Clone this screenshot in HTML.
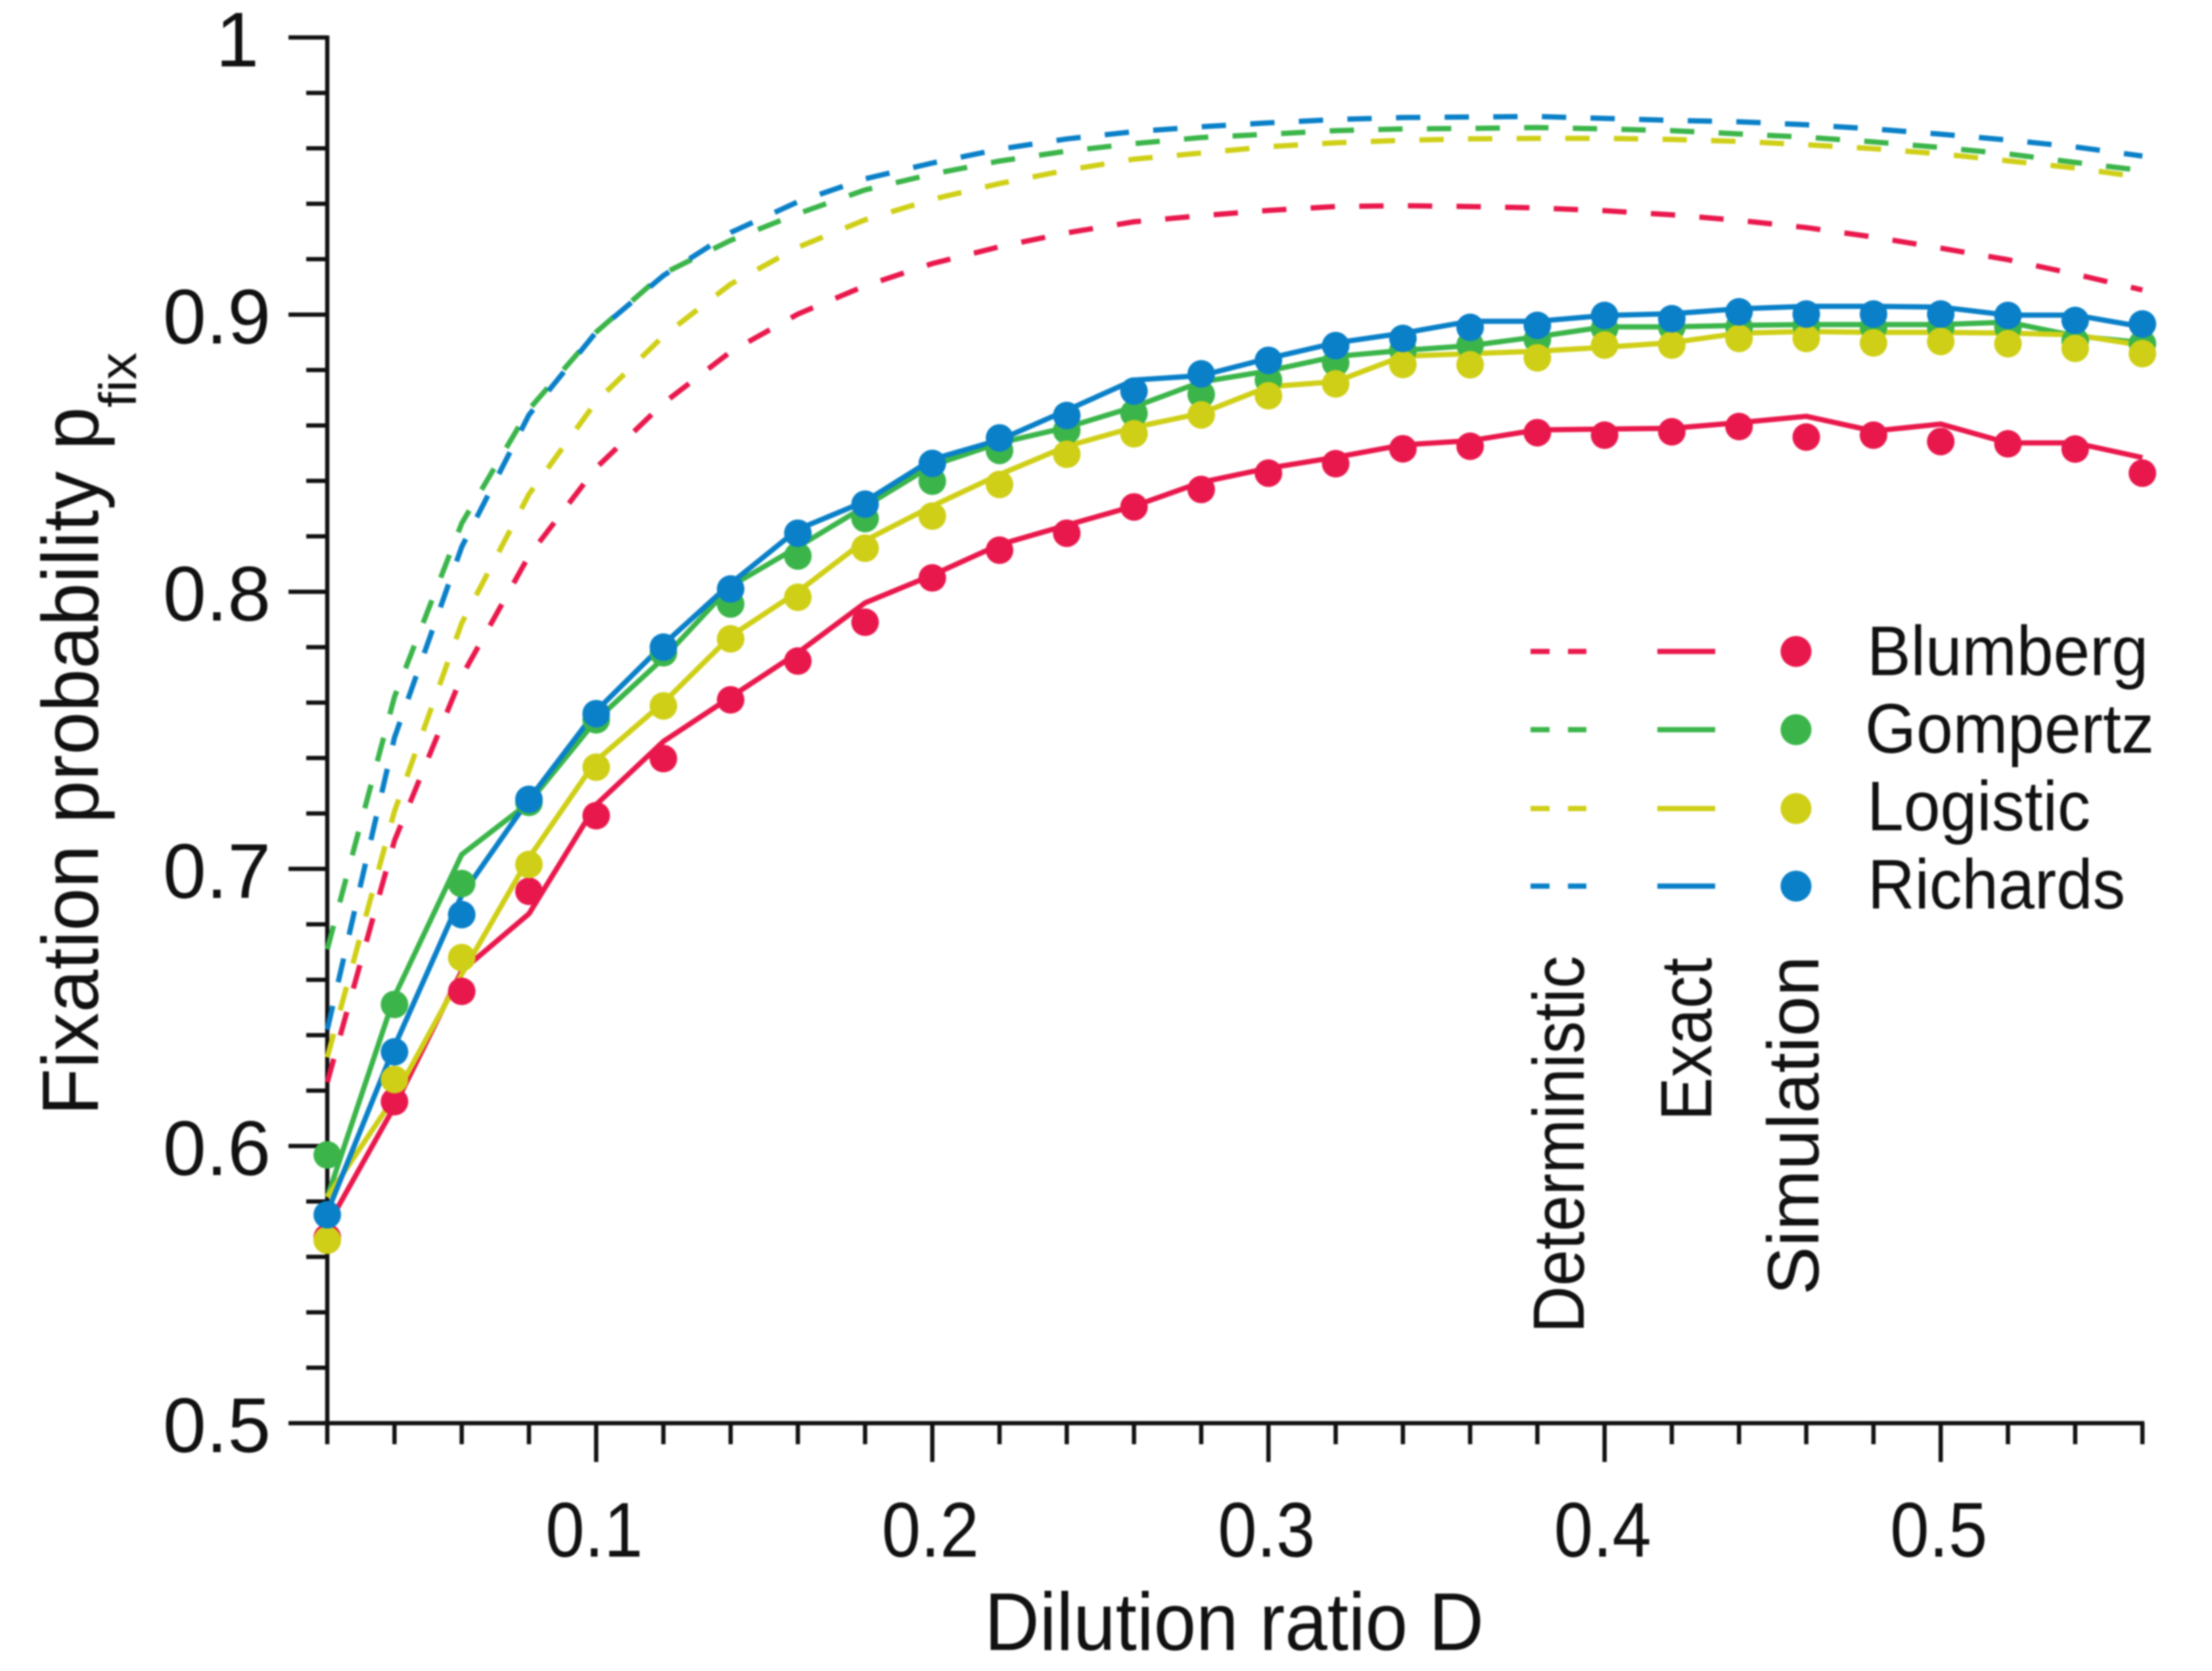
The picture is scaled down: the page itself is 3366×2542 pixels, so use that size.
<!DOCTYPE html>
<html>
<head>
<meta charset="utf-8">
<title>Fixation probability vs dilution ratio</title>
<style>
html,body{margin:0;padding:0;background:#fff;width:3366px;height:2542px;overflow:hidden}
svg{display:block;filter:blur(1.2px)}
text{font-family:"Liberation Sans",Arial,sans-serif;fill:#111}
</style>
</head>
<body>
<svg id="chart" xmlns="http://www.w3.org/2000/svg" width="3366" height="2542" viewBox="0 0 3366 2542">
  <rect x="0" y="0" width="3366" height="2542" fill="#fff"/>
  <g id="axes"></g>
  <g id="series"></g>

  <text x="1498" y="2510" font-size="124" textLength="760" lengthAdjust="spacingAndGlyphs">Dilution ratio D</text>
  <text transform="translate(149,1697) rotate(-90)" font-size="122" textLength="1078" lengthAdjust="spacingAndGlyphs">Fixation probability p</text>
  <text transform="translate(207,620) rotate(-90)" font-size="80" textLength="84" lengthAdjust="spacingAndGlyphs">fix</text>

  <g>
    <g>
      <line x1="2329" x2="2414" y1="991" y2="991" stroke="#e9184c" stroke-width="8" stroke-dasharray="29 28"/>
      <line x1="2522" x2="2610" y1="991" y2="991" stroke="#e9184c" stroke-width="8"/>
      <circle cx="2733" cy="991" r="23.5" fill="#e9184c"/>
      <text x="2841" y="1027" font-size="107" textLength="428" lengthAdjust="spacingAndGlyphs">Blumberg</text>
    </g>
    <g>
      <line x1="2329" x2="2414" y1="1110" y2="1110" stroke="#3bb54a" stroke-width="8" stroke-dasharray="29 28"/>
      <line x1="2522" x2="2610" y1="1110" y2="1110" stroke="#3bb54a" stroke-width="8"/>
      <circle cx="2733" cy="1110" r="23.5" fill="#3bb54a"/>
      <text x="2838" y="1145" font-size="107" textLength="440" lengthAdjust="spacingAndGlyphs">Gompertz</text>
    </g>
    <g>
      <line x1="2329" x2="2414" y1="1230" y2="1230" stroke="#cfcf17" stroke-width="8" stroke-dasharray="29 28"/>
      <line x1="2522" x2="2610" y1="1230" y2="1230" stroke="#cfcf17" stroke-width="8"/>
      <circle cx="2733" cy="1230" r="23.5" fill="#cfcf17"/>
      <text x="2841" y="1263" font-size="107" textLength="340" lengthAdjust="spacingAndGlyphs">Logistic</text>
    </g>
    <g>
      <line x1="2329" x2="2414" y1="1348" y2="1348" stroke="#0a80c8" stroke-width="8" stroke-dasharray="29 28"/>
      <line x1="2522" x2="2610" y1="1348" y2="1348" stroke="#0a80c8" stroke-width="8"/>
      <circle cx="2733" cy="1348" r="23.5" fill="#0a80c8"/>
      <text x="2842" y="1382" font-size="107" textLength="392" lengthAdjust="spacingAndGlyphs">Richards</text>
    </g>
    <text transform="translate(2410,2028) rotate(-90)" font-size="110" textLength="574" lengthAdjust="spacingAndGlyphs">Deterministic</text>
    <text transform="translate(2604,1705) rotate(-90)" font-size="110" textLength="248" lengthAdjust="spacingAndGlyphs">Exact</text>
    <text transform="translate(2767,1970) rotate(-90)" font-size="110" textLength="516" lengthAdjust="spacingAndGlyphs">Simulation</text>
  </g>
</svg>

<script>
const dilution = [0.02,0.04,0.06,0.08,0.10,0.12,0.14,0.16,0.18,0.20,0.22,0.24,0.26,0.28,0.30,0.32,0.34,0.36,0.38,0.40,0.42,0.44,0.46,0.48,0.50,0.52,0.54,0.56];

const detBlumberg = [0.623,0.7102,0.7695,0.813,0.8447,0.868,0.8866,0.9002,0.9104,0.9184,0.9245,0.9295,0.9335,0.9357,0.9376,0.939,0.9393,0.939,0.9385,0.9375,0.936,0.934,0.9314,0.928,0.924,0.9198,0.9146,0.9089];
const detGompertz = [0.671,0.7621,0.8247,0.8658,0.8937,0.9148,0.9268,0.9364,0.945,0.9507,0.9554,0.959,0.9617,0.9639,0.9651,0.9664,0.967,0.9672,0.9675,0.967,0.9664,0.9652,0.964,0.9623,0.9603,0.958,0.9549,0.952];
const detLogistic = [0.632,0.7208,0.7887,0.8352,0.8686,0.8923,0.911,0.9243,0.9342,0.9416,0.9473,0.9521,0.9561,0.9583,0.9606,0.962,0.9629,0.9634,0.9636,0.9636,0.9632,0.9625,0.9613,0.9599,0.958,0.9555,0.9529,0.9495];
const detRichards = [0.642,0.7474,0.8162,0.8638,0.8937,0.9141,0.9296,0.9407,0.949,0.9547,0.9597,0.9634,0.966,0.9678,0.9692,0.9704,0.9711,0.9713,0.9715,0.9708,0.9701,0.9696,0.9685,0.967,0.9651,0.963,0.9605,0.9572];

const exactBlumberg = [0.5711,0.6143,0.6632,0.6838,0.7232,0.746,0.762,0.778,0.796,0.806,0.817,0.824,0.8309,0.8395,0.8446,0.8485,0.853,0.8545,0.8584,0.8587,0.859,0.861,0.8633,0.858,0.8605,0.8537,0.8537,0.8484];
const exactGompertz = [0.5816,0.654,0.7052,0.7239,0.7537,0.776,0.802,0.8162,0.8308,0.8456,0.8537,0.8593,0.8667,0.8757,0.8797,0.8849,0.8871,0.8888,0.892,0.8956,0.8956,0.8961,0.8964,0.8964,0.8964,0.8973,0.8923,0.8899];
const exactLogistic = [0.5816,0.6177,0.662,0.704,0.7391,0.76,0.784,0.8,0.8185,0.8309,0.8423,0.8525,0.8593,0.8644,0.874,0.8758,0.885,0.8859,0.8868,0.8882,0.8899,0.8933,0.8939,0.8936,0.8936,0.8933,0.8927,0.8889];
const exactRichards = [0.576,0.636,0.6905,0.7251,0.757,0.781,0.803,0.8225,0.8326,0.8478,0.8548,0.8655,0.8764,0.878,0.8842,0.8898,0.8933,0.8976,0.8976,0.8997,0.9003,0.9021,0.903,0.903,0.9027,0.8998,0.8998,0.8956];

const simBlumberg = [0.567,0.616,0.6558,0.6919,0.7192,0.7398,0.761,0.775,0.789,0.805,0.815,0.8211,0.8306,0.8369,0.8428,0.8462,0.8516,0.8525,0.8574,0.8565,0.8577,0.8596,0.8558,0.8565,0.8542,0.8534,0.8515,0.8428];
const simGompertz = [0.5968,0.6511,0.6947,0.724,0.7538,0.778,0.7956,0.8129,0.8264,0.8399,0.851,0.8582,0.8644,0.8712,0.8764,0.8826,0.8871,0.889,0.891,0.895,0.8955,0.8955,0.896,0.8955,0.8955,0.8955,0.8905,0.8895];
const simLogistic = [0.566,0.624,0.668,0.7016,0.7367,0.7588,0.783,0.798,0.8157,0.8273,0.8387,0.8496,0.857,0.8638,0.8707,0.875,0.882,0.8819,0.8844,0.889,0.889,0.8914,0.8914,0.8898,0.8903,0.8895,0.8878,0.8859];
const simRichards = [0.5752,0.634,0.6835,0.7251,0.756,0.78,0.801,0.8211,0.8316,0.8463,0.8555,0.8636,0.8724,0.8786,0.8835,0.8888,0.8914,0.8954,0.8961,0.8997,0.8985,0.901,0.9002,0.9002,0.9002,0.8997,0.8979,0.8966];

const xMajorTicks = [0.1,0.2,0.3,0.4,0.5];
const xMajorLabels = ["0.1","0.2","0.3","0.4","0.5"];
const yMajorTicks = [0.5,0.6,0.7,0.8,0.9,1.0];
const yMajorLabels = ["0.5","0.6","0.7","0.8","0.9","1"];
const yMinorTicks = [0.52,0.54,0.56,0.58,0.62,0.64,0.66,0.68,0.72,0.74,0.76,0.78,0.82,0.84,0.86,0.88,0.92,0.94,0.96,0.98];
const xMinorTicks = [0.02,0.04,0.06,0.08,0.12,0.14,0.16,0.18,0.22,0.24,0.26,0.28,0.32,0.34,0.36,0.38,0.42,0.44,0.46,0.48,0.52,0.54,0.56];

const seriesNames = ["blumberg","gompertz","logistic","richards"];
const seriesColors = ["#e9184c","#3bb54a","#cfcf17","#0a80c8"];
const detSeries = [detBlumberg,detGompertz,detLogistic,detRichards];
const exactSeries = [exactBlumberg,exactGompertz,exactLogistic,exactRichards];
const simSeries = [simBlumberg,simGompertz,simLogistic,simRichards];

const NS = "http://www.w3.org/2000/svg";
const X0 = 498, XPX = 5115, Y0 = 2165, YPX = 4216;
function xScale(d){ return X0 + (d - 0.02) * XPX; }
function yScale(v){ return Y0 - (v - 0.5) * YPX; }

function tickLine(parent, x1, y1, x2, y2){
  const l = document.createElementNS(NS, "line");
  l.setAttribute("x1", x1);
  l.setAttribute("y1", y1);
  l.setAttribute("x2", x2);
  l.setAttribute("y2", y2);
  l.setAttribute("stroke", "#111");
  l.setAttribute("stroke-width", "6.5");
  parent.appendChild(l);
  return l;
}
function label(parent, x, y, str, anchor){
  const t = document.createElementNS(NS, "text");
  t.setAttribute("x", x);
  t.setAttribute("y", y);
  t.setAttribute("font-size", "118");
  t.setAttribute("text-anchor", anchor);
  t.textContent = str;
  parent.appendChild(t);
  return t;
}
function linePath(values){
  return values.map((v, i) => (i ? "L" : "M") + xScale(dilution[i]).toFixed(1) + " " + yScale(v).toFixed(1)).join(" ");
}

const axes = document.getElementById("axes");
const yAxis = tickLine(axes, X0, yScale(1) - 3, X0, yScale(0.5) + 3);


const xAxis = tickLine(axes, X0 - 3, yScale(0.5), xScale(0.56) + 3, yScale(0.5));



yMinorTicks.forEach(v => {
  const t = tickLine(axes, X0 - 32, yScale(v), X0, yScale(v));
  
  
});
yMajorTicks.forEach((v, i) => {
  const t = tickLine(axes, X0 - 59, yScale(v), X0, yScale(v));
  
  
  const isOne = yMajorLabels[i].length === 1;
  const l = label(axes, isOne ? 394 : 412, yScale(v) + 44, yMajorLabels[i], "end");
  
  
});
xMinorTicks.forEach(d => {
  const t = tickLine(axes, xScale(d), Y0, xScale(d), Y0 + 32);
  
  
});
xMajorTicks.forEach((d, i) => {
  const t = tickLine(axes, xScale(d), Y0, xScale(d), Y0 + 59);
  
  
  const l = label(axes, xScale(d) - 3, 2368, xMajorLabels[i], "middle");
  l.setAttribute("textLength", "148");
  l.setAttribute("lengthAdjust", "spacingAndGlyphs");
  
  
});

const layer = document.getElementById("series");
detSeries.forEach((vals, s) => {
  const p = document.createElementNS(NS, "path");
  p.setAttribute("d", linePath(vals));
  p.setAttribute("fill", "none");
  p.setAttribute("stroke", seriesColors[s]);
  p.setAttribute("stroke-width", "8");
  p.setAttribute("stroke-dasharray", "37 37");
  
  
  layer.appendChild(p);
});
exactSeries.forEach((vals, s) => {
  const p = document.createElementNS(NS, "path");
  p.setAttribute("d", linePath(vals));
  p.setAttribute("fill", "none");
  p.setAttribute("stroke", seriesColors[s]);
  p.setAttribute("stroke-width", "8");
  p.setAttribute("stroke-linejoin", "round");
  
  
  layer.appendChild(p);
});
simSeries.forEach((vals, s) => {
  vals.forEach((v, i) => {
    const c = document.createElementNS(NS, "circle");
    c.setAttribute("cx", xScale(dilution[i]).toFixed(1));
    c.setAttribute("cy", yScale(v).toFixed(1));
    c.setAttribute("r", "21");
    c.setAttribute("fill", seriesColors[s]);
    
    
    layer.appendChild(c);
  });
});
</script>
</body>
</html>
